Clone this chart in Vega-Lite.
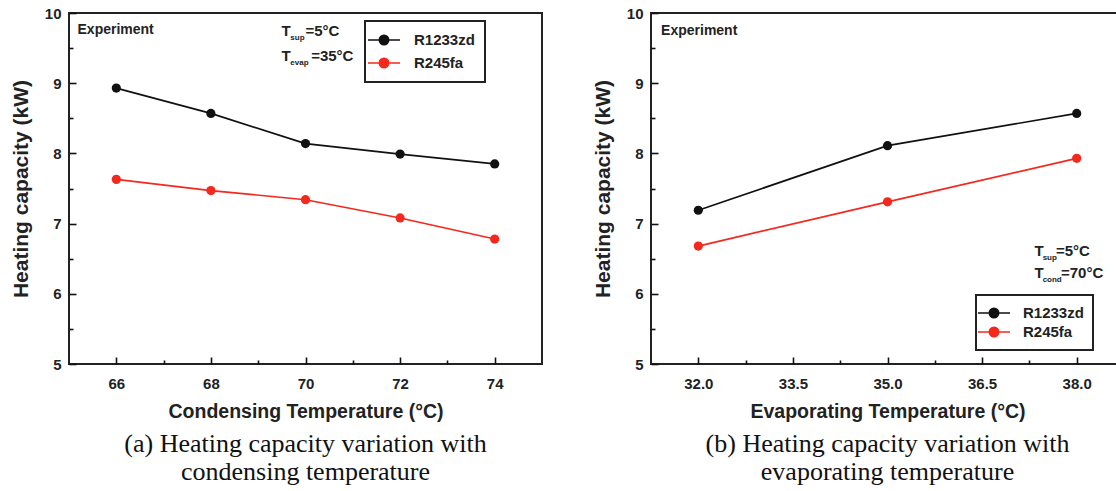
{
  "$schema": "https://vega.github.io/schema/vega-lite/v6.json",
  "background": "white",
  "padding": {"left": 9, "top": 5, "right": 0, "bottom": 3},
  "spacing": 48,
  "config": {
    "view": {"stroke": "#222222", "strokeWidth": 2},
    "font": "Liberation Sans",
    "axis": {
      "domain": false,
      "grid": false,
      "labelFont": "Liberation Sans",
      "labelFontWeight": "bold",
      "labelFontSize": 15,
      "labelColor": "#222222",
      "labelFlush": false,
      "labelOverlap": false,
      "labelBound": false,
      "titleFont": "Liberation Sans",
      "titleFontWeight": "bold",
      "titleColor": "#222222",
      "tickColor": "#111111",
      "tickWidth": 1.6,
      "tickCap": "butt"
    },
    "legend": {
      "title": null,
      "orient": "none",
      "strokeColor": "#222222",
      "strokeWidth": 2,
      "labelFont": "Liberation Sans",
      "labelFontWeight": "bold",
      "labelFontSize": 15,
      "labelColor": "#222222",
      "symbolStrokeWidth": 1.7,
      "symbolSize": 256,
      "symbolType": "M-2,0H2M-0.58,0A0.58,0.58,0,1,1,0.58,0A0.58,0.58,0,1,1,-0.58,0Z"
    },
    "title": {
      "font": "Liberation Serif",
      "fontSize": 26,
      "fontWeight": "normal",
      "color": "#111111",
      "orient": "bottom",
      "anchor": "middle",
      "lineHeight": 28
    }
  },
  "resolve": {"legend": {"color": "independent"}},
  "hconcat": [
    {
      "width": 473,
      "height": 351,
      "title": {"text": ["(a) Heating capacity variation with", "condensing temperature"], "offset": 10},
      "data": {"values": [
        {"T": 66, "Q": 8.93, "Refrigerant": "R1233zd"},
        {"T": 68, "Q": 8.57, "Refrigerant": "R1233zd"},
        {"T": 70, "Q": 8.14, "Refrigerant": "R1233zd"},
        {"T": 72, "Q": 7.99, "Refrigerant": "R1233zd"},
        {"T": 74, "Q": 7.85, "Refrigerant": "R1233zd"},
        {"T": 66, "Q": 7.63, "Refrigerant": "R245fa"},
        {"T": 68, "Q": 7.47, "Refrigerant": "R245fa"},
        {"T": 70, "Q": 7.34, "Refrigerant": "R245fa"},
        {"T": 72, "Q": 7.08, "Refrigerant": "R245fa"},
        {"T": 74, "Q": 6.78, "Refrigerant": "R245fa"}
      ]},
      "encoding": {
        "x": {"field": "T", "type": "quantitative",
          "scale": {"domain": [65, 75], "nice": false, "zero": false},
          "axis": {"title": "Condensing Temperature (°C)", "titleFontSize": 19.5, "titlePadding": 8,
            "values": [66, 67, 68, 69, 70, 71, 72, 73, 74],
            "labelExpr": "datum.value % 2 == 0 ? format(datum.value, 'd') : ''",
            "tickSize": {"condition": {"test": "datum.value % 2 == 1", "value": -4}, "value": -7},
            "labelPadding": 19}},
        "y": {"field": "Q", "type": "quantitative",
          "scale": {"domain": [5, 10], "nice": false, "zero": false},
          "axis": {"title": "Heating capacity (kW)", "titleFontSize": 21, "titlePadding": 13,
            "values": [5, 5.5, 6, 6.5, 7, 7.5, 8, 8.5, 9, 9.5, 10],
            "labelExpr": "datum.value % 1 == 0 ? format(datum.value, 'd') : ''",
            "tickSize": {"condition": {"test": "datum.value % 1 != 0", "value": -4}, "value": -7},
            "labelPadding": 15}}
      },
      "layer": [
        {
          "mark": {"type": "line", "strokeWidth": 1.7},
          "encoding": {
            "color": {"field": "Refrigerant", "type": "nominal",
              "scale": {"domain": ["R1233zd", "R245fa"], "range": ["#111111", "#f5281e"]},
              "legend": {"legendX": 296, "legendY": 8, "padding": 10, "rowPadding": 5, "labelOffset": 21,
                "encode": {"symbols": {"update": {"fill": {"scale": "color", "field": "value"}, "stroke": {"scale": "color", "field": "value"}}}}}}
          }
        },
        {
          "mark": {"type": "point", "filled": true, "size": 85, "opacity": 1},
          "encoding": {
            "color": {"field": "Refrigerant", "type": "nominal",
              "scale": {"domain": ["R1233zd", "R245fa"], "range": ["#111111", "#f5281e"]}}
          }
        },
        {
          "data": {"name": "notesA", "values": [
            {"T": 65.18, "Q": 9.76, "text": "Experiment", "kind": "note"},
            {"T": 69.49, "Q": 9.737, "text": "T", "kind": "main"},
            {"T": 69.68, "Q": 9.64, "text": "sup", "kind": "sub"},
            {"T": 70.0, "Q": 9.737, "text": "=5°C", "kind": "main"},
            {"T": 69.49, "Q": 9.384, "text": "T", "kind": "main"},
            {"T": 69.68, "Q": 9.29, "text": "evap", "kind": "sub"},
            {"T": 70.12, "Q": 9.384, "text": "=35°C", "kind": "main"}
          ]},
          "layer": [
            {"transform": [{"filter": "datum.kind == 'note'"}],
             "mark": {"type": "text", "fontWeight": "bold", "fontSize": 14, "align": "left", "baseline": "middle", "color": "#222222"},
             "encoding": {"text": {"field": "text"}}},
            {"transform": [{"filter": "datum.kind == 'main'"}],
             "mark": {"type": "text", "fontWeight": "bold", "fontSize": 15, "align": "left", "baseline": "middle", "color": "#222222"},
             "encoding": {"text": {"field": "text"}}},
            {"transform": [{"filter": "datum.kind == 'sub'"}],
             "mark": {"type": "text", "fontWeight": "bold", "fontSize": 8, "align": "left", "baseline": "middle", "color": "#222222"},
             "encoding": {"text": {"field": "text"}}}
          ]
        }
      ]
    },
    {
      "width": 473,
      "height": 351,
      "title": {"text": ["(b) Heating capacity variation with", "evaporating temperature"], "offset": 10},
      "data": {"values": [
        {"T": 32, "Q": 7.19, "Refrigerant": "R1233zd"},
        {"T": 35, "Q": 8.11, "Refrigerant": "R1233zd"},
        {"T": 38, "Q": 8.57, "Refrigerant": "R1233zd"},
        {"T": 32, "Q": 6.68, "Refrigerant": "R245fa"},
        {"T": 35, "Q": 7.31, "Refrigerant": "R245fa"},
        {"T": 38, "Q": 7.93, "Refrigerant": "R245fa"}
      ]},
      "encoding": {
        "x": {"field": "T", "type": "quantitative",
          "scale": {"domain": [31.25, 38.75], "nice": false, "zero": false},
          "axis": {"title": "Evaporating Temperature (°C)", "titleFontSize": 19.5, "titlePadding": 8,
            "values": [32, 32.75, 33.5, 34.25, 35, 35.75, 36.5, 37.25, 38],
            "labelExpr": "(datum.value - 32) % 1.5 == 0 ? format(datum.value, '.1f') : ''",
            "tickSize": {"condition": {"test": "(datum.value - 32) % 1.5 != 0", "value": -4}, "value": -7},
            "labelPadding": 19}},
        "y": {"field": "Q", "type": "quantitative",
          "scale": {"domain": [5, 10], "nice": false, "zero": false},
          "axis": {"title": "Heating capacity (kW)", "titleFontSize": 21, "titlePadding": 13,
            "values": [5, 5.5, 6, 6.5, 7, 7.5, 8, 8.5, 9, 9.5, 10],
            "labelExpr": "datum.value % 1 == 0 ? format(datum.value, 'd') : ''",
            "tickSize": {"condition": {"test": "datum.value % 1 != 0", "value": -4}, "value": -7},
            "labelPadding": 15}}
      },
      "layer": [
        {
          "mark": {"type": "line", "strokeWidth": 1.7},
          "encoding": {
            "color": {"field": "Refrigerant", "type": "nominal",
              "scale": {"domain": ["R1233zd", "R245fa"], "range": ["#111111", "#f5281e"]},
              "legend": {"legendX": 325, "legendY": 282, "padding": 9, "rowPadding": 1, "labelOffset": 20,
                "encode": {"symbols": {"update": {"fill": {"scale": "color", "field": "value"}, "stroke": {"scale": "color", "field": "value"}}}}}}
          }
        },
        {
          "mark": {"type": "point", "filled": true, "size": 85, "opacity": 1},
          "encoding": {
            "color": {"field": "Refrigerant", "type": "nominal",
              "scale": {"domain": ["R1233zd", "R245fa"], "range": ["#111111", "#f5281e"]}}
          }
        },
        {
          "data": {"name": "notesB", "values": [
            {"T": 31.41, "Q": 9.75, "text": "Experiment", "kind": "note"},
            {"T": 37.33, "Q": 6.609, "text": "T", "kind": "main"},
            {"T": 37.46, "Q": 6.516, "text": "sup", "kind": "sub"},
            {"T": 37.67, "Q": 6.609, "text": "=5°C", "kind": "main"},
            {"T": 37.33, "Q": 6.295, "text": "T", "kind": "main"},
            {"T": 37.46, "Q": 6.195, "text": "cond", "kind": "sub"},
            {"T": 37.75, "Q": 6.295, "text": "=70°C", "kind": "main"}
          ]},
          "layer": [
            {"transform": [{"filter": "datum.kind == 'note'"}],
             "mark": {"type": "text", "fontWeight": "bold", "fontSize": 14, "align": "left", "baseline": "middle", "color": "#222222"},
             "encoding": {"text": {"field": "text"}}},
            {"transform": [{"filter": "datum.kind == 'main'"}],
             "mark": {"type": "text", "fontWeight": "bold", "fontSize": 15, "align": "left", "baseline": "middle", "color": "#222222"},
             "encoding": {"text": {"field": "text"}}},
            {"transform": [{"filter": "datum.kind == 'sub'"}],
             "mark": {"type": "text", "fontWeight": "bold", "fontSize": 8, "align": "left", "baseline": "middle", "color": "#222222"},
             "encoding": {"text": {"field": "text"}}}
          ]
        }
      ]
    }
  ]
}
